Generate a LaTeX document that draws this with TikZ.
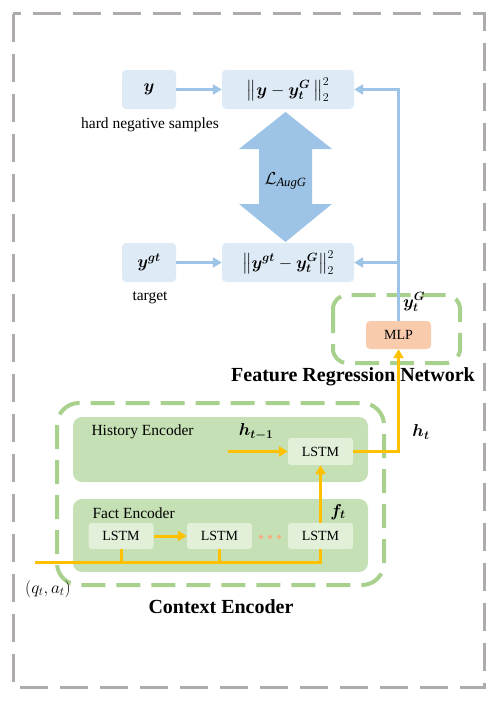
\documentclass[tikz,border=0pt]{standalone}
\usepackage{amsmath,bm}
\usepackage{fontspec}
\setmainfont{Liberation Serif}
\usetikzlibrary{arrows.meta}
\definecolor{lblue}{HTML}{DEEBF7}
\definecolor{ablue}{HTML}{9DC3E6}
\definecolor{gfill}{HTML}{C5E0B4}
\definecolor{gdash}{HTML}{A9D18E}
\definecolor{lfill}{HTML}{E2F0D9}
\definecolor{mlpc}{HTML}{F8CBAD}
\definecolor{orng}{HTML}{FFC000}
\definecolor{gray1}{HTML}{AFABAB}
\definecolor{dotc}{HTML}{F4B183}
\tikzset{
  bbox/.style={fill=lblue, rounded corners=4pt, minimum height=39pt, inner sep=0pt},
  lstm/.style={fill=lfill, rounded corners=3pt, minimum width=65pt, minimum height=26pt, inner sep=0pt, font=\fontsize{14}{16}\selectfont},
  barrow/.style={draw=ablue, line width=3pt, -{Triangle[length=9pt,width=10pt]}},
  bline/.style={draw=ablue, line width=3pt},
  oarrow/.style={draw=orng, line width=3pt, -{Triangle[length=9pt,width=10pt]}},
  oline/.style={draw=orng, line width=3pt},
  gdashed/.style={draw=gdash, line width=4pt, dash pattern=on 24pt off 11pt, rounded corners=14pt},
  txt/.style={font=\fontsize{15.5}{17}\selectfont},
  btxt/.style={font=\fontsize{20}{22}\selectfont\bfseries},
  mth/.style={font=\fontsize{18}{20}\selectfont},
}
\begin{document}
\begin{tikzpicture}[x=1pt,y=-1pt]
\useasboundingbox (0,0) rectangle (498,701);
% outer gray dashed frame
\draw[gray1, line width=3pt, dash pattern=on 28pt off 12pt] (13,14) rectangle (484,687);

% top row
\node[bbox, minimum width=54pt, mth] (y) at (149,89.5) {$\bm{y}$};
\node[bbox, minimum width=132pt, mth] (n1) at (288,89.5) {$\bigl\|\bm{y}-\bm{y}_{\bm{t}}^{\bm{G}}\,\bigr\|_{2}^{2}$};
\node[txt] (hns) at (150,125) {hard negative samples};

% bottom row
\node[bbox, minimum width=54pt, mth] (ygt) at (149,262.5) {$\bm{y}^{\bm{gt}}$};
\node[bbox, minimum width=132pt, mth] (n2) at (288,262.5) {$\bigl\|\bm{y}^{\bm{gt}}-\bm{y}_{\bm{t}}^{\bm{G}}\bigr\|_{2}^{2}$};
\node[txt] (tgt) at (150,298) {target};

\draw[barrow] (y) -- (n1);
\draw[barrow] (ygt) -- (n2);

% double arrow
\fill[ablue] (285.5,112) -- (332,149) -- (312,149) -- (312,204) -- (332,204) -- (285.5,242)
  -- (239,204) -- (259,204) -- (259,149) -- (239,149) -- cycle;
\node (L) at (285.5,181) {\fontsize{18}{20}\selectfont$\mathcal{L}_{\mathit{AugG}}$};

% MLP
\draw[gdashed] (333,295) rectangle (460,363);
\node[fill=mlpc, rounded corners=4pt, minimum width=65pt, minimum height=28pt, inner sep=0pt, font=\fontsize{14}{16}\selectfont] (mlp) at (398.5,335) {MLP};
\node[mth] (ytg) at (414,302) {$\bm{y}_{\bm{t}}^{\bm{G}}$};
\node[btxt] (frn) at (353,377) {Feature Regression Network};

\coordinate (c1) at (mlp.north |- n1.east);
\coordinate (c2) at (mlp.north |- n2.east);
\draw[bline] (mlp.north) -- (c1);
\draw[barrow] ([xshift=1.5pt]c1) -- (n1.east);
\draw[barrow] (c2) -- (n2.east);

% Context encoder
\draw[gdashed, rounded corners=22pt] (57,403) rectangle (384,585);
\fill[gfill, rounded corners=9pt] (73,417) rectangle (368,482);
\fill[gfill, rounded corners=9pt] (73,499) rectangle (368,572);
\node[txt, anchor=west] (he) at (88,432) {History Encoder};
\node[txt, anchor=west] (fe) at (89,513) {Fact Encoder};

\node[lstm, minimum height=27pt] (hl) at (320.5,451.5) {LSTM};
\node[lstm] (f1) at (121,536) {LSTM};
\node[lstm] (f2) at (219.5,536) {LSTM};
\node[lstm] (f3) at (320.5,536) {LSTM};
\foreach \xx in {261,270,279} \fill[dotc] (\xx,537) circle (2pt);

\draw[oarrow] (f1) -- (f2);
\draw[oarrow] (f3) -- (hl);
\coordinate (in) at (35,562);
\coordinate (e3) at (f3.south |- in);
\draw[oline] (in) -- ([xshift=1.5pt]e3) ;
\draw[oline] (e3) -- (f3.south);
\draw[oline] (f1.south) -- (f1.south |- in);
\draw[oline] (f2.south) -- (f2.south |- in);

\coordinate (hm) at (228,451.5);
\draw[oarrow] (hm) -- (hl.west);
\coordinate (hc) at (mlp.south |- hl.east);
\draw[oline] (hl.east) -- ([xshift=1.5pt]hc);
\draw[oarrow] (hc) -- (mlp.south);

\node[mth] (htm) at (256,432) {$\bm{h}_{\bm{t-1}}$};
\node[mth] (ht) at (421,432) {$\bm{h}_{\bm{t}}$};
\node[mth] (ft) at (338,512) {$\bm{f}_{\bm{t}}$};
\node[font=\fontsize{17}{19}\selectfont] (qa) at (48,589) {$(q_t,a_t)$};
\node[btxt] (ce) at (221,607) {Context Encoder};
\end{tikzpicture}
\end{document}
